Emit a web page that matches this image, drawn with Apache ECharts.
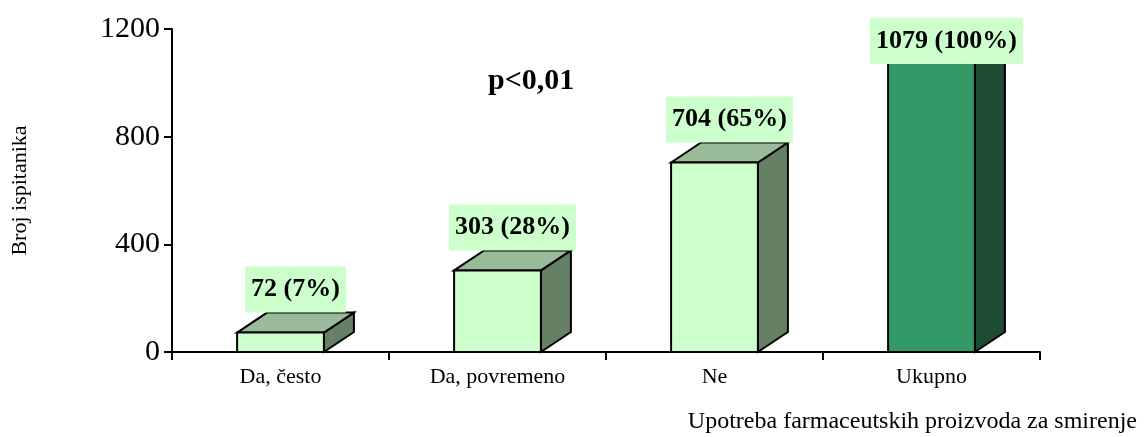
<!DOCTYPE html>
<html>
<head>
<meta charset="utf-8">
<script src="https://cdn.jsdelivr.net/npm/echarts@6/dist/echarts.min.js"></script>
<style>
  html, body { margin: 0; padding: 0; background: #ffffff; }
  #chart { width: 1146px; height: 437px; }
</style>
</head>
<body>
<div id="chart"></div>
<script>
// Responses: use of pharmaceutical calming products
const categories = ['Da, često', 'Da, povremeno', 'Ne', 'Ukupno'];
const counts = [72, 303, 704, 1079];
const percents = [7, 28, 65, 100];
const yTicks = [0, 400, 800, 1200];

const SERIF = "'Liberation Serif', 'Times New Roman', serif";

// Face colours for the 3D blocks (front, side, top); the total column is darker
const lightFaces = { front: '#CCFFCC', side: '#668066', top: '#99BB99' };
const darkFaces = { front: '#339966', side: '#1D4C33', top: '#267350' };
const DEPTH_X = 30;
const DEPTH_Y = 20;
const FRONT_RATIO = 0.4;
const PLOT_TOP = 29;

const chart = echarts.init(document.getElementById('chart'), null, { renderer: 'canvas' });

function renderBlock(params, api) {
  const idx = api.value(0);
  const val = api.value(1);
  const top = api.coord([idx, val]);
  const base = api.coord([idx, 0]);
  const bandW = api.size([1, 0])[0];
  const w = bandW * FRONT_RATIO;
  const xl = top[0] - w / 2;
  const xr = top[0] + w / 2;
  const yt = top[1];
  const yb = base[1];
  const faces = idx === categories.length - 1 ? darkFaces : lightFaces;
  const edge = { stroke: '#000000', lineWidth: 2, lineJoin: 'miter' };

  // label box sits just above the back edge of the block, kept inside the plot
  const boxH = 46;
  let boxBottom = yt - DEPTH_Y;
  if (boxBottom - boxH < PLOT_TOP - 11) boxBottom = PLOT_TOP - 11 + boxH;

  return {
    type: 'group',
    children: [
      {
        type: 'polygon',
        shape: { points: [[xr, yb], [xr + DEPTH_X, yb - DEPTH_Y], [xr + DEPTH_X, yt - DEPTH_Y], [xr, yt]] },
        style: Object.assign({ fill: faces.side }, edge)
      },
      {
        type: 'polygon',
        shape: { points: [[xl, yt], [xl + DEPTH_X, yt - DEPTH_Y], [xr + DEPTH_X, yt - DEPTH_Y], [xr, yt]] },
        style: Object.assign({ fill: faces.top }, edge)
      },
      {
        type: 'rect',
        shape: { x: xl, y: yt, width: w, height: yb - yt },
        style: Object.assign({ fill: faces.front }, edge)
      },
      {
        type: 'text',
        z2: 10,
        style: {
          text: counts[idx] + ' (' + percents[idx] + '%)',
          x: top[0] + DEPTH_X / 2,
          y: boxBottom - boxH / 2,
          align: 'center',
          verticalAlign: 'middle',
          font: 'bold 26px ' + SERIF,
          fill: '#000000',
          backgroundColor: '#CCFFCC',
          padding: [10, 6, 10, 6]
        }
      }
    ]
  };
}

const option = {
  animation: false,
  backgroundColor: '#ffffff',
  grid: { left: 172, right: 106, top: PLOT_TOP, bottom: 85, containLabel: false, outerBoundsMode: 'none' },
  xAxis: {
    type: 'category',
    data: categories,
    boundaryGap: true,
    axisLine: { show: true, lineStyle: { color: '#000000', width: 2 } },
    axisTick: { show: true, inside: false, length: 8, interval: 0, alignWithLabel: false, lineStyle: { color: '#000000', width: 2 } },
    axisLabel: { color: '#000000', fontFamily: SERIF, fontSize: 22, margin: 14, interval: 0 },
    splitLine: { show: false }
  },
  yAxis: {
    type: 'value',
    min: yTicks[0],
    max: yTicks[yTicks.length - 1],
    interval: yTicks[1] - yTicks[0],
    name: 'Broj ispitanika',
    nameLocation: 'middle',
    nameRotate: 90,
    nameGap: 141,
    nameTextStyle: { color: '#000000', fontFamily: SERIF, fontSize: 22 },
    axisLine: { show: true, lineStyle: { color: '#000000', width: 2 } },
    axisTick: { show: true, inside: false, length: 8, lineStyle: { color: '#000000', width: 2 } },
    axisLabel: { color: '#000000', fontFamily: SERIF, fontSize: 30, margin: 12, formatter: (v) => String(v) },
    splitLine: { show: false }
  },
  graphic: [
    {
      type: 'text',
      left: 488,
      top: 66,
      style: { text: 'p<0,01', font: 'bold 30px ' + SERIF, fill: '#000000' }
    },
    {
      type: 'text',
      right: 9,
      top: 410,
      style: { text: 'Upotreba farmaceutskih proizvoda za smirenje', font: '24px ' + SERIF, fill: '#000000' }
    }
  ],
  series: [
    {
      type: 'custom',
      renderItem: renderBlock,
      data: counts.map((v, i) => [i, v]),
      encode: { x: 0, y: 1 },
      clip: false,
      z: 5
    }
  ]
};

chart.setOption(option);
</script>
</body>
</html>
